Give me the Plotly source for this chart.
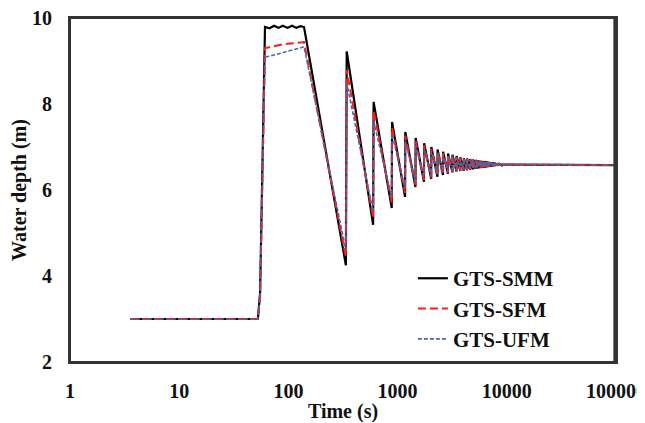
import plotly.graph_objects as go

# ---- data ----
t_head = [3.55, 52.5, 55, 61]
smm_head = [3.0, 3.0, 3.6, 9.79]
sfm_head = [3.0, 3.0, 3.5, 9.30]
ufm_head = [3.0, 3.0, 3.5, 9.09]

t_plateau = [67, 74, 81, 89, 98, 108, 118, 129, 139]
smm_plateau = [9.76, 9.82, 9.77, 9.82, 9.77, 9.82, 9.77, 9.81, 9.79]
sfm_plateau = [9.32, 9.35, 9.37, 9.39, 9.40, 9.41, 9.42, 9.43, 9.44]
ufm_plateau = [9.11, 9.14, 9.17, 9.20, 9.23, 9.26, 9.28, 9.31, 9.33]

trough_times = [336, 597, 884, 1171, 1458, 1745, 2032, 2319, 2606, 2893, 3180,
                3467, 3754, 4041, 4328, 4615, 4902, 5189, 5476, 5763, 6050,
                6337, 6624, 6911, 7198, 7485, 7772, 8059, 8346, 8633, 8920]
peak_times = [342, 603, 890, 1177, 1464, 1751, 2038, 2325, 2612, 2899, 3186,
              3473, 3760, 4047, 4334, 4621, 4908, 5195, 5482, 5769, 6056,
              6343, 6630, 6917, 7204, 7491, 7778, 8065, 8352, 8639, 8926]

smm_troughs = [4.25, 5.19, 5.58, 5.84, 6.07, 6.19, 6.26, 6.31, 6.35, 6.38, 6.41,
               6.43, 6.44, 6.45, 6.46, 6.47, 6.48, 6.49, 6.50, 6.51, 6.515,
               6.52, 6.53, 6.54, 6.545, 6.55, 6.56, 6.565, 6.57, 6.575, 6.58]
smm_peaks = [9.22, 8.05, 7.58, 7.35, 7.21, 7.09, 7.00, 6.94, 6.89, 6.85, 6.82,
             6.79, 6.76, 6.74, 6.73, 6.72, 6.71, 6.70, 6.69, 6.68, 6.675,
             6.67, 6.66, 6.65, 6.645, 6.64, 6.63, 6.62, 6.61, 6.60, 6.59]

sfm_troughs = [4.44, 5.35, 5.70, 5.93, 6.12, 6.23, 6.29, 6.34, 6.37, 6.40, 6.42,
               6.44, 6.45, 6.46, 6.47, 6.48, 6.49, 6.50, 6.51, 6.515, 6.52,
               6.53, 6.535, 6.54, 6.55, 6.555, 6.56, 6.565, 6.57, 6.575, 6.58]
sfm_peaks = [8.79, 7.85, 7.45, 7.26, 7.14, 7.04, 6.96, 6.91, 6.86, 6.83, 6.80,
             6.77, 6.75, 6.73, 6.72, 6.71, 6.70, 6.69, 6.68, 6.675, 6.67,
             6.66, 6.655, 6.65, 6.64, 6.635, 6.63, 6.62, 6.61, 6.60, 6.59]

ufm_troughs = [4.60, 5.50, 5.82, 6.03, 6.19, 6.28, 6.33, 6.37, 6.40, 6.42, 6.44,
               6.46, 6.47, 6.48, 6.49, 6.50, 6.51, 6.52, 6.525, 6.53, 6.54,
               6.545, 6.55, 6.555, 6.56, 6.565, 6.57, 6.57, 6.575, 6.58, 6.58]
ufm_peaks = [8.49, 7.60, 7.30, 7.14, 7.04, 6.96, 6.90, 6.86, 6.82, 6.79, 6.77,
             6.75, 6.73, 6.72, 6.71, 6.70, 6.69, 6.68, 6.675, 6.67, 6.66,
             6.655, 6.65, 6.645, 6.64, 6.63, 6.625, 6.62, 6.61, 6.60, 6.59]

t_tail = [100000]
smm_tail = [6.58]
sfm_tail = [6.58]
ufm_tail = [6.58]

x_ticks = [1, 10, 100, 1000, 10000, 100000]
x_tick_labels = ["1", "10", "100", "1000", "10000", "100000"]
y_ticks = [2, 4, 6, 8, 10]

names = ["GTS-SMM", "GTS-SFM", "GTS-UFM"]


def build(head, plateau, troughs, peaks, tail):
    xs = list(t_head) + list(t_plateau)
    ys = list(head) + list(plateau)
    for tt, tv, pt, pv in zip(trough_times, troughs, peak_times, peaks):
        xs += [tt, pt]
        ys += [tv, pv]
    xs += list(t_tail)
    ys += list(tail)
    return xs, ys


series = [
    build(smm_head, smm_plateau, smm_troughs, smm_peaks, smm_tail),
    build(sfm_head, sfm_plateau, sfm_troughs, sfm_peaks, sfm_tail),
    build(ufm_head, ufm_plateau, ufm_troughs, ufm_peaks, ufm_tail),
]
styles = [
    dict(color="#000000", width=2.2, dash="solid"),
    dict(color="#ff1a1a", width=2, dash="8px,4px"),
    dict(color="#4a6aa5", width=1.6, dash="4px,2px"),
]

fig = go.Figure()
for (xs, ys), nm, st in zip(series, names, styles):
    fig.add_trace(go.Scatter(x=xs, y=ys, mode="lines", name=nm, line=st))

font_family = "Liberation Serif, Times New Roman, serif"
frame_color = "#333333"
frame = dict(color=frame_color, width=2)
frame_shapes = [
    dict(type="line", xref="x domain", yref="y domain", x0=0, x1=0, y0=0, y1=1, line=frame, layer="above"),
    dict(type="line", xref="x domain", yref="y domain", x0=1, x1=1, y0=0, y1=1, line=frame, layer="above"),
    dict(type="line", xref="x domain", yref="y domain", x0=0.997, x1=0.997, y0=0, y1=1, line=frame, layer="above"),
    dict(type="line", xref="x domain", yref="y domain", x0=0, x1=1, y0=0, y1=0, line=frame, layer="above"),
    dict(type="line", xref="x domain", yref="y domain", x0=0, x1=1, y0=1, y1=1, line=frame, layer="above"),
]
# page body has an 8px default margin, so the figure is 8px smaller
fig.update_layout(
    template="none",
    width=637, height=415,
    margin=dict(l=62, r=29, t=10, b=61, autoexpand=False),
    paper_bgcolor="white", plot_bgcolor="white",
    font=dict(family=font_family, size=20, color="#111111"),
    showlegend=True,
    legend=dict(x=0.628, y=0.302, xanchor="left", yanchor="top",
                bgcolor="rgba(0,0,0,0)", borderwidth=0,
                font=dict(family=font_family, size=21, color="#111111",
                          weight="bold"),
                itemwidth=30),
    shapes=frame_shapes,
    # an empty right-hand y axis whose line doubles the right border
    yaxis2=dict(overlaying="y", side="right", range=[2, 10], showline=True,
                linecolor=frame_color, linewidth=2, showticklabels=False,
                ticks="", showgrid=False, zeroline=False, automargin=False),
)
fig.update_xaxes(
    type="log", range=[-0.001, 5.001], tickvals=x_ticks, ticktext=x_tick_labels,
    showgrid=False, zeroline=False, showline=True, mirror=True,
    linecolor=frame_color, linewidth=2, automargin=False,
    ticks="", ticklabelstandoff=10, ticklabeloverflow="allow",
    tickfont=dict(family=font_family, size=20, weight="bold"),
    title=dict(text="<b>Time (s)</b>", standoff=2,
               font=dict(family=font_family, size=20)),
)
fig.update_yaxes(
    selector=dict(anchor=None),
    range=[2, 10], tickvals=y_ticks,
    showgrid=False, zeroline=False, showline=True, mirror=True,
    linecolor=frame_color, linewidth=2, automargin=False,
    ticks="", ticklabelstandoff=12, ticklabeloverflow="allow",
    tickfont=dict(family=font_family, size=20, weight="bold"),
    title=dict(text="<b>Water depth (m)</b>", standoff=8,
               font=dict(family=font_family, size=20)),
)
fig.write_html("out.html")
